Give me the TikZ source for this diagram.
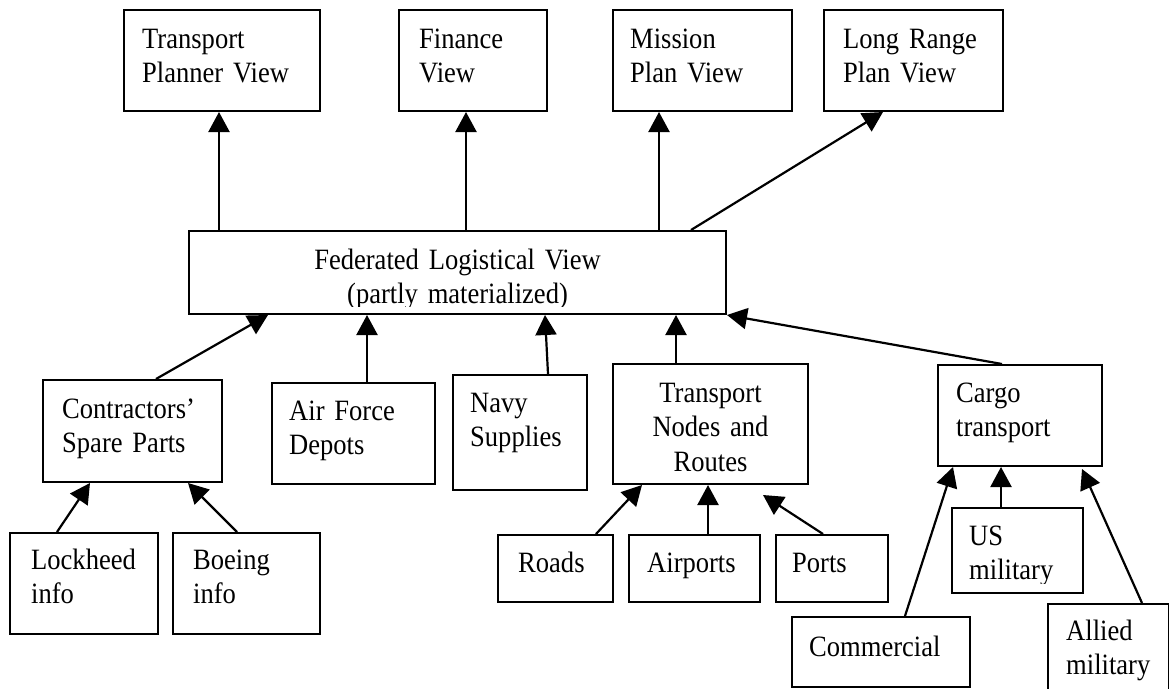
\documentclass[tikz,border=0pt]{standalone}
\usepackage{fontspec}
\setmainfont{Liberation Serif}[FakeStretch=0.9]
\usetikzlibrary{arrows.meta,calc}
\begin{document}
\begin{tikzpicture}[x=1pt,y=-1pt,
  box/.style={draw,line width=2pt,rectangle,inner sep=0pt,anchor=north west},
  lt/.style={inner sep=0pt,anchor=base west,align=left,text width=220pt,font=\fontsize{29.5}{34.6}\selectfont},
  ct/.style={inner sep=0pt,anchor=base,align=center,text width=#1,font=\fontsize{29.5}{34.6}\selectfont},
  arr/.style={line width=2.2pt,-{Triangle[width=21pt,length=20pt]}}]
\useasboundingbox (0,0) rectangle (1169,688);
\fill[white] (0,0) rectangle (1169,688);
\clip (0,0) rectangle (1169,688);
% boxes
\node[box,minimum width=196pt,minimum height=101pt] (tpv) at (123,9) {};
\node[box,minimum width=148pt,minimum height=101pt] (fin) at (398,9) {};
\node[box,minimum width=179pt,minimum height=101pt] (mpv) at (612,9) {};
\node[box,minimum width=179pt,minimum height=101pt] (lrp) at (823,9) {};
\node[box,minimum width=537pt,minimum height=83pt] (flv) at (188,230) {};
\node[box,minimum width=179pt,minimum height=102pt] (csp) at (42,379) {};
\node[box,minimum width=163pt,minimum height=101pt] (afd) at (271,382) {};
\node[box,minimum width=134pt,minimum height=115pt] (nav) at (452,374) {};
\node[box,minimum width=195pt,minimum height=120pt] (tnr) at (612,363) {};
\node[box,minimum width=164pt,minimum height=101pt] (cgo) at (937,364) {};
\node[box,minimum width=148pt,minimum height=101pt] (lck) at (9,532) {};
\node[box,minimum width=147pt,minimum height=101pt] (boe) at (172,532) {};
\node[box,minimum width=115pt,minimum height=67pt] (rds) at (497,534) {};
\node[box,minimum width=131pt,minimum height=67pt] (air) at (628,534) {};
\node[box,minimum width=112pt,minimum height=67pt] (prt) at (775,534) {};
\node[box,minimum width=131pt,minimum height=85pt] (usm) at (951,507) {};
\node[box,minimum width=178pt,minimum height=70pt] (com) at (791,616) {};
\node[box,minimum width=121pt,minimum height=100pt] (alm) at (1047,603) {};
% texts
\node[lt] (tpvT) at ($(tpv.north west)+(19,39)$) {Transport\\Planner View};
\node[lt] (finT) at ($(fin.north west)+(21,39)$) {Finance\\View};
\node[lt] (mpvT) at ($(mpv.north west)+(18,39)$) {Mission\\Plan View};
\node[lt] (lrpT) at ($(lrp.north west)+(20,39)$) {Long Range\\Plan View};
\begin{scope}
\clip (flv.north west) rectangle ($(flv.south east)+(0,-9)$);
\node[ct=537pt] (flvT) at ($(flv.north)+(0,39)$) {Federated Logistical View\\(partly materialized)};
\end{scope}
\node[lt] (cspT) at ($(csp.north west)+(20,39)$) {Contractors’\\Spare Parts};
\node[lt] (afdT) at ($(afd.north west)+(18,38)$) {Air Force\\Depots};
\node[lt] (navT) at ($(nav.north west)+(18,38)$) {Navy\\Supplies};
\node[ct=195pt] (tnrT) at ($(tnr.north)+(0,39)$) {Transport\\Nodes and\\Routes};
\node[lt] (cgoT) at ($(cgo.north west)+(19,38)$) {Cargo\\transport};
\node[lt] (lckT) at ($(lck.north west)+(22,37)$) {Lockheed\\info};
\node[lt] (boeT) at ($(boe.north west)+(21,37)$) {Boeing\\info};
\node[lt] (rdsT) at ($(rds.north west)+(21,38)$) {Roads};
\node[lt] (airT) at ($(air.north west)+(19,38)$) {Airports};
\node[lt] (prtT) at ($(prt.north west)+(17,38)$) {Ports};
\begin{scope}
\clip (usm.north west) rectangle ($(usm.south east)+(0,-11)$);
\node[lt] (usmT) at ($(usm.north west)+(18,38)$) {US\\military};
\end{scope}
\node[lt] (comT) at ($(com.north west)+(18,40)$) {Commercial};
\node[lt] (almT) at ($(alm.north west)+(19,37)$) {Allied\\military};
% connectors
\draw[arr] ($(flv.north west)+(31,0)$) -- ($(tpv.south west)+(96,0)$);
\draw[arr] ($(flv.north west)+(278,0)$) -- ($(fin.south west)+(68,0)$);
\draw[arr] ($(flv.north west)+(471,0)$) -- ($(mpv.south west)+(47,0)$);
\draw[arr] ($(flv.north west)+(503,0)$) -- ($(lrp.south west)+(60,0)$);
\draw[arr] ($(csp.north west)+(114,0)$) -- ($(flv.south west)+(80,0)$);
\draw[arr] ($(afd.north west)+(96,0)$) -- ($(flv.south west)+(179,0)$);
\draw[arr] ($(nav.north west)+(96,0)$) -- ($(flv.south west)+(357,0)$);
\draw[arr] ($(tnr.north west)+(64,0)$) -- ($(flv.south west)+(488,0)$);
\draw[arr] ($(cgo.north west)+(65,0)$) -- (flv.south east);
\draw[arr] ($(lck.north west)+(48,0)$) -- ($(csp.south west)+(48,0)$);
\draw[arr] ($(boe.north west)+(65,0)$) -- ($(csp.south west)+(146,0)$);
\draw[arr] ($(rds.north west)+(99,0)$) -- ($(tnr.south west)+(30,0)$);
\draw[arr] ($(air.north west)+(80,0)$) -- ($(tnr.south west)+(96,0)$);
\coordinate (prtTip) at ($(tnr.south west)+(151,10)$);
\draw[arr] ($(prt.north west)+(48,0)$) -- (prtTip);
\draw[arr] ($(com.north west)+(114,0)$) -- ($(cgo.south west)+(16,0)$);
\draw[arr] ($(usm.north west)+(50,0)$) -- ($(cgo.south west)+(64,0)$);
\draw[arr] ($(alm.north west)+(95,0)$) -- ($(cgo.south west)+(145,2)$);
\end{tikzpicture}
\end{document}
